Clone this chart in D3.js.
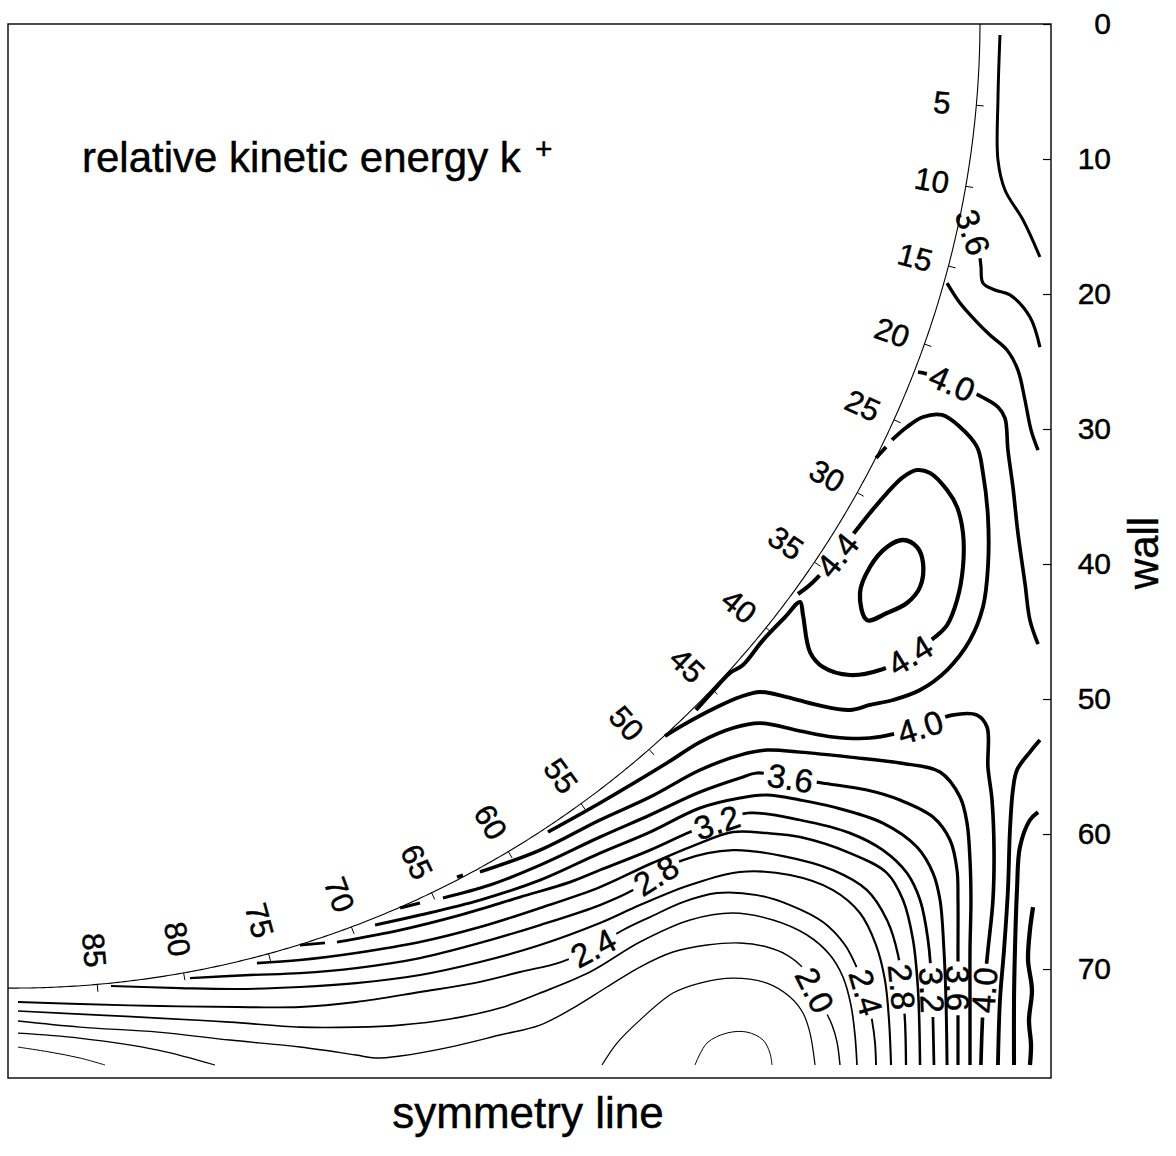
<!DOCTYPE html>
<html>
<head>
<meta charset="utf-8">
<script src="https://cdn.jsdelivr.net/npm/d3@7"></script>
<style>
  html, body { margin: 0; padding: 0; background: #fff; }
  svg { display: block; font-family: "Liberation Sans", Arial, Helvetica, sans-serif; }
  svg text { fill: #000; stroke: #000; stroke-width: 0.45px; }
</style>
</head>
<body>
<svg id="chart" width="1176" height="1156"></svg>
<script>
// ---- axis values ----
const wallTicks = [0, 10, 20, 30, 40, 50, 60, 70];
const bendAngles = [5, 10, 15, 20, 25, 30, 35, 40, 45, 50, 55, 60, 65, 70, 75, 80, 85];

// inner bend contour (circle in the same units as the wall axis)
const arcCenter = [0.37, -0.22];
const arcRadius = 71.63;

// ---- contour lines of k+ : [distance along symmetry line, distance from top] ----
const k16_corner = [[0.74,75.78],[3.11,76.15],[5.33,76.59],[7.19,77.11]];
const k16_dome = [[50.89,77.11],[51.78,75.48],[53.26,74.74],[54.74,74.67],[55.93,75.26],[56.44,76.22],[56.59,77.11]];
const k18_corner = [[0.74,74.74],[5.26,75.11],[11.11,76.0],[15.33,77.11]];
const k18_arch = [[44.0,77.11],[45.11,75.48],[46.81,73.78],[49.26,71.78],[51.26,71.04],[53.70,70.67],[56.22,71.04],[57.93,72.07],[58.89,73.26],[59.41,74.74],[59.78,77.11]];
const k20 = [[0.74,73.85],[5.33,74.30],[11.11,74.67],[16.44,75.26],[21.63,75.78],[25.78,76.37],[27.19,76.59],[29.04,76.44],[32.74,75.78],[36.44,74.89],[39.41,74.15],[41.85,72.89],[44.37,71.33],[46.81,69.85],[49.26,68.74],[51.78,68.22],[54.22,68.07],[56.22,68.37],[57.70,68.96],[58.89,69.93],[59.78,71.56],[60.52,73.04],[61.04,74.15],[61.41,75.41],[61.63,77.11]];
const k22 = [[0.74,73.11],[6.81,73.41],[11.11,73.63],[16.44,73.93],[21.63,74.30],[25.78,74.30],[29.04,74.15],[32.74,73.70],[36.44,72.89],[39.41,71.78],[43.11,70.22],[46.81,68.0],[50.52,66.37],[53.70,65.85],[56.67,66.37],[59.19,67.48],[60.89,68.96],[61.85,70.59],[62.44,72.67],[62.74,74.89],[62.89,77.11]];
const k24 = [[0.74,72.44],[5.33,72.59],[11.26,72.74],[16.96,72.81],[21.63,72.81],[25.78,72.44],[30.52,71.70],[34.52,71.04],[37.93,70.22],[40.96,69.48],[43.33,68.44],[45.56,67.11],[47.56,66.15],[50.0,65.04],[52.52,64.37],[55.48,64.52],[57.93,65.26],[60.37,66.52],[62.0,68.22],[62.89,69.93],[63.56,71.70],[64.0,73.78],[64.22,75.41],[64.30,77.11]];
const k26 = [[7.63,71.26],[12.74,71.41],[16.96,71.48],[21.63,71.33],[25.78,71.04],[30.52,70.44],[34.96,69.48],[39.41,68.22],[43.85,66.59],[46.81,65.26],[50.52,63.78],[54.22,62.81],[57.93,63.04],[61.11,64.15],[63.11,65.85],[64.30,68.22],[64.96,70.81],[65.26,73.78],[65.41,77.11]];
const k28 = [[13.48,70.67],[17.93,70.44],[21.63,70.30],[25.78,69.93],[30.52,69.19],[34.96,68.07],[39.41,66.74],[43.85,65.26],[46.30,64.15],[48.0,63.04],[50.0,61.93],[53.70,61.19],[57.41,61.63],[61.11,62.67],[63.63,64.15],[65.11,66.37],[65.93,68.96],[66.22,71.33],[66.44,73.78],[66.52,77.11]];
const k30 = [[18.44,69.56],[21.63,69.33],[25.78,68.81],[30.52,68.0],[34.96,66.89],[39.41,65.48],[43.85,63.93],[47.56,62.22],[51.26,60.67],[53.70,59.85],[56.22,59.93],[58.67,60.22],[62.37,61.41],[65.11,62.89],[66.30,64.89],[67.04,67.85],[67.41,71.56],[67.56,77.11]];
const k32_dash = [[21.63,68.22],[23.48,68.07]];
const k32 = [[24.37,68.0],[29.04,67.11],[33.48,66.0],[37.93,64.67],[41.63,63.56],[43.85,62.67],[47.56,61.19],[50.52,59.85],[52.52,59.11],[54.96,58.44],[58.67,58.96],[62.37,59.93],[64.81,61.19],[66.59,62.89],[67.56,64.89],[68.15,67.85],[68.44,71.56],[68.59,77.11]];
const k34 = [[27.19,66.74],[30.52,66.0],[34.96,64.89],[39.41,63.41],[43.85,61.41],[47.56,59.85],[51.26,58.07],[54.22,57.33],[56.22,57.11],[58.67,57.48],[61.11,57.99],[64.81,59.19],[67.33,60.96],[68.52,62.89],[69.04,64.89],[69.33,68.59],[69.48,72.30],[69.56,77.11]];
const k34_top = [[73.48,0.81],[73.33,5.63],[73.33,10.07],[73.85,12.30],[75.19,14.52],[76.44,17.26]];
const k36_dash = [[29.04,65.48],[30.52,65.11]];
const k36 = [[32.22,64.74],[35.70,63.78],[39.41,62.30],[43.85,60.22],[47.56,58.59],[51.26,56.89],[54.22,55.85],[55.48,55.48],[57.93,55.85],[60.30,56.22],[63.63,56.74],[66.07,57.48],[68.52,58.74],[69.78,60.44],[70.30,62.67],[70.37,64.89],[70.37,68.59],[70.37,71.41],[70.37,77.11]];
const k36_top = [[70.89,13.78],[71.48,15.41],[71.93,16.89],[72.07,17.93],[72.22,19.19],[73.11,19.70],[74.22,20.07],[75.70,21.70],[76.44,23.93]];
const k38_dash = [[33.26,63.19],[33.70,63.04]];
const k38 = [[34.96,62.81],[39.41,61.19],[43.85,58.96],[47.56,57.26],[51.26,55.26],[54.22,54.15],[56.22,53.78],[58.67,53.93],[62.37,54.30],[66.07,54.74],[69.04,55.41],[70.52,57.26],[71.04,59.19],[71.26,61.93],[71.33,64.89],[71.26,68.59],[71.26,72.30],[71.26,77.11]];
const k38_top = [[69.56,19.19],[70.52,20.67],[71.63,21.93],[72.74,23.04],[74.0,24.15],[74.81,25.63],[75.33,27.85],[75.78,30.07],[76.30,31.56]];
const k40 = [[40.0,59.85],[43.85,57.70],[48.81,54.74],[51.26,53.19],[53.70,52.15],[55.70,51.78],[58.67,52.37],[61.11,52.81],[63.85,52.89],[67.56,52.07],[69.93,51.19],[71.78,51.19],[72.52,52.07],[72.59,55.04],[72.89,57.48],[73.04,61.19],[72.96,64.89],[72.59,68.59],[72.30,71.56],[72.15,74.52],[72.07,77.11]];
const k40_top = [[67.41,25.78],[68.67,26.07],[69.93,26.59],[71.11,27.11],[72.15,27.63],[73.33,28.37],[73.85,29.19],[74.07,31.56],[74.44,34.30],[74.81,37.70],[75.33,41.41],[75.70,44.15],[76.30,45.93]];
const k42_dash = [[64.30,32.15],[65.04,31.33]];
const k42 = [[65.48,30.81],[66.59,29.85],[67.78,29.11],[69.19,28.96],[70.52,29.85],[71.78,31.33],[72.22,33.26],[72.59,36.52],[72.59,40.22],[72.22,43.19],[71.26,45.63],[69.56,47.85],[67.56,49.33],[65.56,50.07],[63.85,50.44],[62.37,50.81],[59.93,50.44],[57.70,49.85],[55.70,49.48],[54.22,49.85],[52.52,50.59],[50.0,51.93],[48.67,52.74]];
const k42_wall = [[76.44,53.04],[75.70,53.93],[74.74,55.26],[74.44,56.74],[74.22,59.70],[74.07,64.15],[73.78,68.59],[73.48,72.30],[73.33,77.11]];
const k44 = [[58.52,42.22],[59.56,41.41],[61.41,39.33],[62.96,37.33],[63.85,36.22],[65.11,34.74],[66.30,33.56],[67.33,33.04],[68.30,33.26],[69.56,34.52],[70.30,35.78],[70.74,37.70],[70.74,40.22],[70.30,42.67],[69.56,44.52],[68.67,45.41],[66.81,46.74],[64.59,47.85],[62.37,48.22],[60.37,47.63],[59.41,46.52],[58.89,43.78],[58.67,42.81],[57.56,43.93],[55.93,45.63],[54.44,47.48],[53.48,48.07],[52.15,49.48],[50.96,50.81]];
const k44_wall = [[76.30,58.37],[75.70,58.96],[74.96,60.96],[74.74,64.15],[74.59,68.59],[74.52,72.30],[74.52,77.11]];
const k46 = [[63.63,44.15],[63.11,42.15],[63.85,40.22],[65.11,38.74],[66.30,38.22],[67.33,38.74],[67.78,39.93],[67.56,41.70],[66.59,42.89],[65.11,43.63]];
const k46_wall = [[75.93,65.41],[75.70,67.11],[75.56,69.33],[75.85,71.56],[75.63,73.78],[75.78,75.63],[75.70,77.11]];

// level, line, and the vertices that carry an in-line value label
const contourLines = [
  { level: 1.6, points: k16_corner },
  { level: 1.6, points: k16_dome },
  { level: 1.8, points: k18_corner },
  { level: 1.8, points: k18_arch },
  { level: 2.0, points: k20, labels: [20] },
  { level: 2.2, points: k22 },
  { level: 2.4, points: k24, labels: [10, 20] },
  { level: 2.6, points: k26 },
  { level: 2.8, points: k28, labels: [9, 17] },
  { level: 3.0, points: k30 },
  { level: 3.2, points: k32_dash },
  { level: 3.2, points: k32, labels: [8, 16] },
  { level: 3.4, points: k34 },
  { level: 3.4, points: k34_top },
  { level: 3.6, points: k36_dash },
  { level: 3.6, points: k36, labels: [8, 17] },
  { level: 3.6, points: k36_top, labels: [1] },
  { level: 3.8, points: k38_dash },
  { level: 3.8, points: k38 },
  { level: 3.8, points: k38_top },
  { level: 4.0, points: k40, labels: [9, 18] },
  { level: 4.0, points: k40_top, labels: [2] },
  { level: 4.2, points: k42_dash },
  { level: 4.2, points: k42 },
  { level: 4.2, points: k42_wall },
  { level: 4.4, points: k44, labels: [2, 16] },
  { level: 4.4, points: k44_wall },
  { level: 4.6, points: k46, closed: true },
  { level: 4.6, points: k46_wall }
];

// ---- layout ----
const svg = d3.select('#chart');
const frame = { left: 8, top: 24, right: 1051, bottom: 1078 };
const xMax = 77.26, yMax = 78.07;
const x = d3.scaleLinear().domain([0, xMax]).range([frame.left, frame.right]);
const y = d3.scaleLinear().domain([0, yMax]).range([frame.top, frame.bottom]);
const widthScale = d3.scaleLinear().domain([1.6, 4.6]).range([1.0, 4.3]);
const bendScale = d3.scaleLinear().domain([5, 45, 85]).range([5, 43.7, 85]);
const fmt = d3.format('.1f');
const rad = Math.PI / 180;

// frame
svg.append('rect')
  .attr('x', x(0)).attr('y', y(0))
  .attr('width', x(xMax) - x(0)).attr('height', y(yMax) - y(0))
  .attr('fill', 'none').attr('stroke', '#000').attr('stroke-width', 1.4);

// inner bend arc
const arcPoint = (deg, r) => [arcCenter[0] + r * Math.cos(deg * rad), arcCenter[1] + r * Math.sin(deg * rad)];
const a0 = Math.asin(-arcCenter[1] / arcRadius) / rad;
const a1 = Math.acos(-arcCenter[0] / arcRadius) / rad;
const arcPts = d3.range(a0, a1, 0.2).concat([a1]).map(a => arcPoint(a, arcRadius));
const straight = d3.line().x(d => x(d[0])).y(d => y(d[1]));
svg.append('path').attr('d', straight(arcPts))
  .attr('fill', 'none').attr('stroke', '#000').attr('stroke-width', 1.1);

// bend angle ticks and labels
const bend = svg.append('g').attr('class', 'bend-angles');
bendAngles.forEach(v => {
  const a = bendScale(v);
  const p0 = arcPoint(a, arcRadius), p1 = arcPoint(a, arcRadius + 0.55);
  bend.append('line')
    .attr('x1', x(p0[0])).attr('y1', y(p0[1]))
    .attr('x2', x(p1[0])).attr('y2', y(p1[1]))
    .attr('stroke', '#000').attr('stroke-width', 1);
  const pl = arcPoint(a, arcRadius - 2.55);
  bend.append('text')
    .attr('transform', `translate(${x(pl[0])},${y(pl[1])}) rotate(${a})`)
    .attr('text-anchor', 'middle').attr('dy', '0.35em')
    .attr('font-size', 31)
    .text(v);
});

// right (wall) axis
const axis = d3.axisRight(y).tickValues(wallTicks).tickSizeInner(-8).tickSizeOuter(0);
const ag = svg.append('g').attr('transform', `translate(${frame.right},0)`).call(axis);
ag.select('.domain').remove();
ag.selectAll('line').attr('stroke', '#000').attr('stroke-width', 1.2);
ag.selectAll('text')
  .attr('x', 60).attr('text-anchor', 'end')
  .attr('font-size', 30).attr('font-family', '"Liberation Sans", Arial, sans-serif');

// contour lines with in-line labels
const smooth = d3.line().x(d => x(d[0])).y(d => y(d[1])).curve(d3.curveCatmullRom.alpha(0.5));
const smoothClosed = d3.line().x(d => x(d[0])).y(d => y(d[1])).curve(d3.curveCatmullRomClosed.alpha(0.5));
const lineLayer = svg.append('g').attr('class', 'contours');
const labelLayer = svg.append('g').attr('class', 'contour-labels');

contourLines.forEach(c => {
  const path = lineLayer.append('path')
    .attr('d', (c.closed ? smoothClosed : smooth)(c.points))
    .attr('fill', 'none').attr('stroke', '#000')
    .attr('stroke-width', widthScale(c.level))
    .attr('stroke-linejoin', 'round').attr('stroke-linecap', 'butt');
  if (!c.labels) return;
  const node = path.node();
  const L = node.getTotalLength();
  const gaps = [];
  c.labels.forEach(idx => {
    const px = x(c.points[idx][0]), py = y(c.points[idx][1]);
    let best = 0, bd = Infinity;
    for (let s = 0; s <= L; s += 0.5) {
      const q = node.getPointAtLength(s);
      const d = (q.x - px) ** 2 + (q.y - py) ** 2;
      if (d < bd) { bd = d; best = s; }
    }
    const pa = node.getPointAtLength(Math.max(0, best - 5));
    const pb = node.getPointAtLength(Math.min(L, best + 5));
    let ang = Math.atan2(pb.y - pa.y, pb.x - pa.x) / rad;
    if (ang > 90) ang -= 180; else if (ang <= -90) ang += 180;
    const pc = node.getPointAtLength(best);
    const t = labelLayer.append('text')
      .attr('transform', `translate(${pc.x},${pc.y}) rotate(${ang})`)
      .attr('text-anchor', 'middle').attr('dy', '0.36em')
      .attr('font-size', 33)
      .text(fmt(c.level));
    const w = t.node().getComputedTextLength();
    gaps.push([best - w / 2 - 4, best + w / 2 + 4]);
  });
  gaps.sort((a, b) => a[0] - b[0]);
  const dash = [];
  let pos = 0;
  gaps.forEach(([s, e]) => {
    s = Math.max(0, s); e = Math.min(L, e);
    dash.push(Math.max(0, s - pos), Math.max(0, e - s));
    pos = e;
  });
  dash.push(L - pos + 20, 20);
  path.attr('stroke-dasharray', dash.join(' '));
});

// titles
const title = svg.append('text')
  .attr('x', 82).attr('y', 172)
  .attr('font-size', 42);
title.append('tspan').text('relative kinetic energy k');
title.append('tspan').attr('dx', 14).attr('dy', -13).attr('font-size', 30).text('+');

svg.append('text')
  .attr('x', 528).attr('y', 1128)
  .attr('text-anchor', 'middle').attr('font-size', 44)
  .text('symmetry line');

svg.append('text')
  .attr('transform', 'translate(1158,553) rotate(-90)')
  .attr('text-anchor', 'middle').attr('font-size', 42)
  .text('wall');
</script>
</body>
</html>
